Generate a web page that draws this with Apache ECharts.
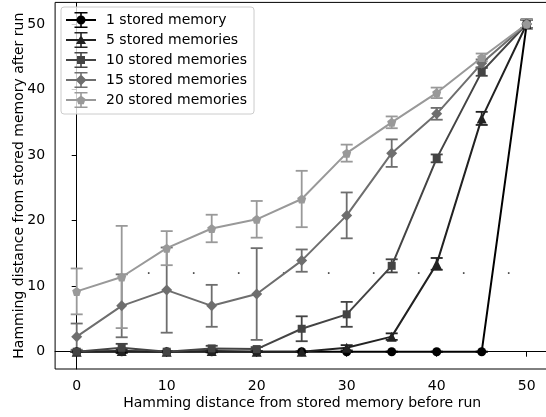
<!DOCTYPE html>
<html><head><meta charset="utf-8">
<script src="https://cdn.jsdelivr.net/npm/echarts@6/dist/echarts.min.js"></script>
<style>html,body{margin:0;padding:0;background:#fff;overflow:hidden}#c{width:556px;height:417px}</style>
</head><body><div id="c"></div>
<script>
// ---- data ----
const xValues = [0, 5, 10, 15, 20, 25, 30, 35, 40, 45, 50];
const seriesNames = ['1 stored memory', '5 stored memories', '10 stored memories', '15 stored memories', '20 stored memories'];
const mean1 = [0, 0, 0, 0, 0, 0, 0, 0, 0, 0, 50];
const err1  = [0, 0, 0, 0, 0, 0, 0, 0, 0, 0, 0.7];
const mean5 = [0, 0.1, 0, 0.1, 0, 0, 0.6, 2.3, 13.4, 35.6, 50];
const err5  = [0, 0.3, 0, 0.2, 0, 0, 0.4, 0.5, 0.9, 1.0, 0.6];
const mean10 = [0, 0.6, 0, 0.5, 0.4, 3.5, 5.7, 13.1, 29.5, 42.7, 50];
const err10  = [0, 0.6, 0, 0.4, 0.3, 1.9, 1.9, 1.0, 0.6, 0.6, 0.6];
const mean15 = [2.3, 7.0, 9.4, 7.0, 8.8, 13.9, 20.8, 30.3, 36.3, 44.0, 50];
const err15  = [2.0, 4.8, 6.5, 3.2, 7.0, 1.7, 3.5, 2.1, 0.9, 0.6, 0.6];
const mean20 = [9.2, 11.4, 15.8, 18.8, 20.2, 23.3, 30.3, 35.0, 39.5, 44.9, 50];
const err20  = [3.5, 7.8, 2.6, 2.1, 2.8, 4.3, 1.3, 0.9, 0.8, 0.6, 0.7];
const dotX = [8, 13, 18, 23, 28, 33, 38, 43, 48];
const dotY = [12, 12, 12, 12, 12, 12, 12, 12, 12];
const xTicks = [0, 10, 20, 30, 40, 50];
const yTicks = [0, 10, 20, 30, 40, 50];

// ---- styling ----
const colors = ['#000000', '#222222', '#444444', '#6e6e6e', '#999999'];
const means = [mean1, mean5, mean10, mean15, mean20];
const errs = [err1, err5, err10, err15, err20];
const pentagon = 'path://M0,-1 L0.9511,-0.309 L0.5878,0.809 L-0.5878,0.809 L-0.9511,-0.309 Z';
const symbols = ['circle', 'triangle', 'rect', 'diamond', pentagon];
const symbolSizes = [9, 10, 8, 11, 9];

function poly(pts) {
  return 'M' + pts.map(p => p[0].toFixed(2) + ' ' + p[1].toFixed(2)).join(' L') + ' Z ';
}
function regular(n, r, start, cx, cy) {
  const pts = [];
  for (let i = 0; i < n; i++) {
    const a = start + i * 2 * Math.PI / n;
    pts.push([cx + r * Math.cos(a), cy + r * Math.sin(a)]);
  }
  return pts;
}
const cx = 15, cy = 8;
const markerPaths = [
  poly(regular(16, 4.5, 0, cx, cy)),
  poly([[cx, cy - 5], [cx + 5, cy + 4], [cx - 5, cy + 4]]),
  poly([[cx - 4, cy - 4], [cx + 4, cy - 4], [cx + 4, cy + 4], [cx - 4, cy + 4]]),
  poly([[cx, cy - 5.5], [cx + 5.5, cy], [cx, cy + 5.5], [cx - 5.5, cy]]),
  poly(regular(5, 4.8, -Math.PI / 2, cx, cy + 0.4))
];
const base = poly([[0, 7], [30, 7], [30, 9], [0, 9]]) +
  poly([[14.2, 0.8], [15.8, 0.8], [15.8, 15.2], [14.2, 15.2]]) +
  poly([[8.5, 0], [21.5, 0], [21.5, 1.6], [8.5, 1.6]]) +
  poly([[8.5, 14.4], [21.5, 14.4], [21.5, 16], [8.5, 16]]);
const icons = markerPaths.map(m => 'path://' + base + m);

function errRender(color) {
  return function (params, api) {
    const x = api.value(0), lo = api.value(1), hi = api.value(2);
    const pT = api.coord([x, hi]), pB = api.coord([x, lo]);
    const w = 6;
    const style = { stroke: color, lineWidth: 1.8 };
    return {
      type: 'group', children: [
        { type: 'line', shape: { x1: pT[0], y1: pT[1], x2: pB[0], y2: pB[1] }, style },
        { type: 'line', shape: { x1: pT[0] - w, y1: pT[1], x2: pT[0] + w, y2: pT[1] }, style },
        { type: 'line', shape: { x1: pB[0] - w, y1: pB[1], x2: pB[0] + w, y2: pB[1] }, style }
      ]
    };
  };
}

const series = [];
for (let k = 0; k < 5; k++) {
  series.push({
    type: 'custom', name: 'err' + k, renderItem: errRender(colors[k]),
    data: xValues.map((x, i) => [x, means[k][i] - errs[k][i], means[k][i] + errs[k][i]]),
    encode: { x: 0, y: [1, 2] }, silent: true, z: 2
  });
  series.push({
    type: 'line', name: seriesNames[k],
    data: xValues.map((x, i) => [x, means[k][i]]),
    symbol: symbols[k], symbolSize: symbolSizes[k], showSymbol: true,
    lineStyle: { color: colors[k], width: 2 },
    itemStyle: { color: colors[k], borderWidth: 0 },
    emphasis: { disabled: true }, z: 2
  });
}
series.push({
  type: 'scatter', name: 'dots', data: dotX.map((x, i) => [x, dotY[i]]),
  symbol: 'rect', symbolSize: 1.6, itemStyle: { color: '#000' }, silent: true, z: 1
});

const font = 'DejaVu Sans';
const chart = echarts.init(document.getElementById('c'), null, { renderer: 'canvas' });
chart.setOption({
  animation: false,
  backgroundColor: '#fff',
  grid: { left: 55.1, top: 2.4, width: 494.1, height: 366.6, show: true, borderColor: '#000', borderWidth: 1, containLabel: false },
  xAxis: {
    type: 'value', min: -2.4, max: 52.5,
    name: 'Hamming distance from stored memory before run', nameLocation: 'middle', nameGap: 27,
    nameMoveOverlap: false,
    nameTextStyle: { fontFamily: font, fontSize: 14, color: '#000' },
    axisLine: { lineStyle: { color: '#000', width: 1 } },
    axisTick: { show: true, inside: false, length: 5, lineStyle: { color: '#000', width: 1 }, customValues: xTicks },
    axisLabel: { fontFamily: font, fontSize: 14, color: '#000', margin: 10, customValues: xTicks },
    splitLine: { show: false }
  },
  yAxis: {
    type: 'value', min: -2.64, max: 53.3,
    name: 'Hamming distance from stored memory after run', nameLocation: 'middle', nameGap: 29,
    nameMoveOverlap: false,
    nameTextStyle: { fontFamily: font, fontSize: 14, color: '#000' },
    axisLine: { show: true, lineStyle: { color: '#000', width: 1 } },
    axisTick: { show: true, inside: false, length: 5, lineStyle: { color: '#000', width: 1 }, customValues: yTicks },
    axisLabel: { fontFamily: font, fontSize: 14, color: '#000', margin: 10, customValues: yTicks },
    splitLine: { show: false }
  },
  legend: {
    data: seriesNames.map((n, i) => ({ name: n, icon: icons[i] })),
    orient: 'vertical', left: 61, top: 7,
    padding: [5, 7, 6, 5],
    itemWidth: 30, itemHeight: 16, itemGap: 4,
    itemStyle: { borderWidth: 0 },
    textStyle: { fontFamily: font, fontSize: 14, color: '#000', padding: [0, 0, 0, 5] },
    backgroundColor: 'rgba(255,255,255,0.8)', borderColor: '#cccccc', borderWidth: 1, borderRadius: 3,
    selectedMode: false
  },
  series: series
});
</script></body></html>
